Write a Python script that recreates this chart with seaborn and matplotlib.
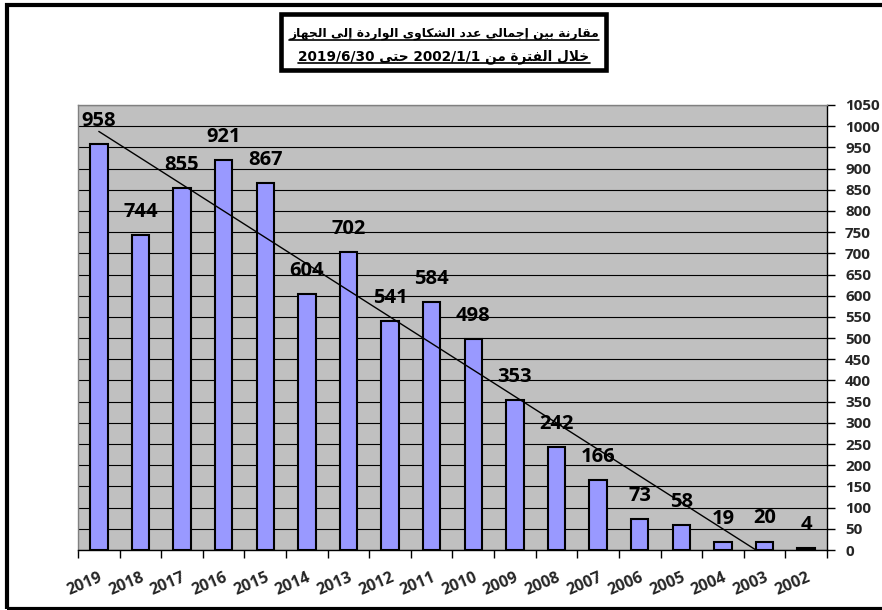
import numpy as np
import pandas as pd
import matplotlib
matplotlib.use("Agg")
import matplotlib.pyplot as plt
import seaborn as sns
from matplotlib.patches import Rectangle
from matplotlib.lines import Line2D

# ---------------- data ----------------
years = ["2019", "2018", "2017", "2016", "2015", "2014", "2013", "2012", "2011",
         "2010", "2009", "2008", "2007", "2006", "2005", "2004", "2003", "2002"]
complaints = [958, 744, 855, 921, 867, 604, 702, 541, 584, 498, 353, 242, 166,
              73, 58, 19, 20, 4]
y_ticks = list(range(0, 1051, 50))
title_line1 = "مقارنة بين إجمالي عدد الشكاوى الواردة إلى الجهاز"
title_line2 = "خلال الفترة من 2002/1/1 حتى 2019/6/30"

# ---------------- minimal Arabic shaping (for matplotlib, which has no bidi) ----------------
FORMS = {
    'ا': (0xFE8D, 0xFE8E), 'إ': (0xFE87, 0xFE88), 'أ': (0xFE83, 0xFE84),
    'ب': (0xFE8F, 0xFE90, 0xFE91, 0xFE92), 'ة': (0xFE93, 0xFE94),
    'ت': (0xFE95, 0xFE96, 0xFE97, 0xFE98), 'ج': (0xFE9D, 0xFE9E, 0xFE9F, 0xFEA0),
    'ح': (0xFEA1, 0xFEA2, 0xFEA3, 0xFEA4), 'خ': (0xFEA5, 0xFEA6, 0xFEA7, 0xFEA8),
    'د': (0xFEA9, 0xFEAA), 'ر': (0xFEAD, 0xFEAE), 'ز': (0xFEAF, 0xFEB0),
    'ش': (0xFEB5, 0xFEB6, 0xFEB7, 0xFEB8), 'ع': (0xFEC9, 0xFECA, 0xFECB, 0xFECC),
    'ف': (0xFED1, 0xFED2, 0xFED3, 0xFED4), 'ق': (0xFED5, 0xFED6, 0xFED7, 0xFED8),
    'ك': (0xFED9, 0xFEDA, 0xFEDB, 0xFEDC), 'ل': (0xFEDD, 0xFEDE, 0xFEDF, 0xFEE0),
    'م': (0xFEE1, 0xFEE2, 0xFEE3, 0xFEE4), 'ن': (0xFEE5, 0xFEE6, 0xFEE7, 0xFEE8),
    'ه': (0xFEE9, 0xFEEA, 0xFEEB, 0xFEEC), 'و': (0xFEED, 0xFEEE),
    'ى': (0xFEEF, 0xFEF0), 'ي': (0xFEF1, 0xFEF2, 0xFEF3, 0xFEF4),
}
LAMALEF = {'ا': (0xFEFB, 0xFEFC), 'إ': (0xFEF9, 0xFEFA), 'أ': (0xFEF7, 0xFEF8)}


def shape_word(word):
    units, i = [], 0
    while i < len(word):
        c = word[i]
        if c == 'ل' and i + 1 < len(word) and word[i + 1] in LAMALEF:
            units.append(('LA', word[i + 1]))
            i += 2
        else:
            units.append(c)
            i += 1
    out = []
    for k, u in enumerate(units):
        prev = units[k - 1] if k > 0 else None
        nxt = units[k + 1] if k + 1 < len(units) else None
        jp = isinstance(prev, str) and prev in FORMS and len(FORMS[prev]) == 4
        if isinstance(u, tuple):
            iso, fin = LAMALEF[u[1]]
            out.append(chr(fin if jp else iso))
            continue
        if u not in FORMS:
            out.append(u)
            continue
        f = FORMS[u]
        jn = len(f) == 4 and nxt is not None and (isinstance(nxt, tuple) or nxt in FORMS)
        if len(f) == 2:
            out.append(chr(f[1] if jp else f[0]))
        else:
            if jp and jn:
                out.append(chr(f[3]))
            elif jp:
                out.append(chr(f[1]))
            elif jn:
                out.append(chr(f[2]))
            else:
                out.append(chr(f[0]))
    return ''.join(out)


def visual(line):
    words = []
    for w in line.split():
        if any(ch in FORMS for ch in w):
            words.append(shape_word(w)[::-1])
        else:
            words.append(w)
    return ' '.join(reversed(words))


# ---------------- figure ----------------
sns.set_theme(style="white")
plt.rcParams['font.family'] = ['Open Sans', 'DejaVu Sans']

W, H = 882, 610
fig = plt.figure(figsize=(W / 100, H / 100), dpi=100)
fig.patch.set_facecolor('white')

ax = fig.add_axes([78 / W, 1 - 550 / H, (827 - 78) / W, (550 - 105) / H])
df = pd.DataFrame({"year": years, "count": complaints})
sns.barplot(data=df, x="year", y="count", order=years, color="#9999FF",
            saturation=1, width=0.42, edgecolor="black", linewidth=1.5, ax=ax,
            errorbar=None, zorder=3)

ax.set_facecolor("#C0C0C0")
ax.set_xlim(-0.5, len(years) - 0.5)
ax.set_ylim(0, 1050)
ax.set_xlabel("")
ax.set_ylabel("")

# y axis on the right
ax.yaxis.tick_right()
ax.set_yticks(y_ticks)
ax.set_yticklabels([str(t) for t in y_ticks], fontsize=11, fontweight='bold')
ax.tick_params(axis='y', which='major', direction='out', length=6, width=1,
               color='black', pad=7, right=True, left=False)
ax.grid(axis='y', color='black', linewidth=0.8)
ax.grid(axis='x', visible=False)
ax.set_axisbelow(True)

# x ticks: marks at category boundaries, labels at centres
ax.set_xticks(np.arange(-0.5, len(years), 1.0))
ax.set_xticklabels([])
ax.tick_params(axis='x', which='major', direction='out', length=6, width=1,
               color='black', bottom=True)
ax.set_xticks(np.arange(len(years)), minor=True)
ax.set_xticklabels(years, minor=True, rotation=23, ha='right',
                   rotation_mode='anchor', fontsize=11.5, fontweight='bold')
ax.tick_params(axis='x', which='minor', length=0, pad=14)

for s in ['top', 'left']:
    ax.spines[s].set_color('#808080')
    ax.spines[s].set_linewidth(1)
for s in ['right', 'bottom']:
    ax.spines[s].set_color('black')
    ax.spines[s].set_linewidth(1)

# linear trend line (clipped at zero as in the spreadsheet chart)
xi = np.arange(len(complaints))
a, b = np.polyfit(xi, complaints, 1)
x_end = -b / a
xs = np.array([0.0, x_end])
ax.plot(xs, a * xs + b, color='black', linewidth=1, zorder=4)

# data labels
for i, v in enumerate(complaints):
    ax.annotate(str(v), (i, v), xytext=(0, 13), textcoords='offset points',
                ha='center', va='baseline', fontsize=14.5, fontweight='bold',
                color='black', zorder=5)

# outer frame (right edge falls outside the picture, as in the reference)
fig.add_artist(Rectangle((7 / W, 1 - 608.5 / H), (900 - 7) / W, (608.5 - 5) / H,
                         transform=fig.transFigure, fill=False,
                         edgecolor='black', linewidth=3))

# title box
fig.add_artist(Rectangle((280.5 / W, 1 - 69.5 / H), (605.5 - 280.5) / W,
                         (69.5 - 14) / H, transform=fig.transFigure,
                         facecolor='white', edgecolor='black', linewidth=3.3,
                         zorder=10))

title_kw = dict(ha='center', va='baseline', fontweight='bold',
                family=['DejaVu Sans'], color='black', zorder=11)
t1 = fig.text(444 / W, 1 - 37 / H, visual(title_line1), fontsize=8.9, **title_kw)
t2 = fig.text(444 / W, 1 - 60 / H, visual(title_line2), fontsize=9.8, **title_kw)

fig.canvas.draw()
renderer = fig.canvas.get_renderer()
for t, uy in ((t1, 40), (t2, 63)):
    bb = t.get_window_extent(renderer)
    fig.add_artist(Line2D([bb.x0 / W, bb.x1 / W], [1 - uy / H, 1 - uy / H],
                          transform=fig.transFigure, color='black',
                          linewidth=1.2, zorder=11))

fig.savefig("out.png", dpi=100)
